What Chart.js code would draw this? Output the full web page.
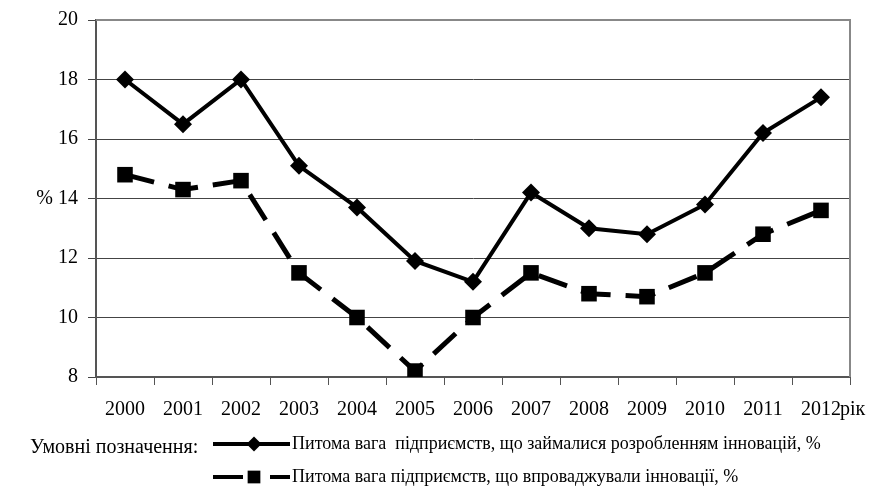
<!DOCTYPE html>
<html>
<head>
<meta charset="utf-8">
<script src="https://cdn.jsdelivr.net/npm/chart.js@4.4.1/dist/chart.umd.min.js"></script>
<style>
  html, body { margin: 0; padding: 0; background: #fff; }
  #wrap { width: 875px; height: 486px; }
</style>
</head>
<body>
<div id="wrap"><canvas id="chart" width="875" height="486"></canvas></div>
<script>
// data
const years = ['2000', '2001', '2002', '2003', '2004', '2005', '2006', '2007', '2008', '2009', '2010', '2011', '2012'];
const developShare = [18.0, 16.5, 18.0, 15.1, 13.7, 11.9, 11.2, 14.2, 13.0, 12.8, 13.8, 16.2, 17.4];
const implementShare = [14.8, 14.3, 14.6, 11.5, 10.0, 8.2, 10.0, 11.5, 10.8, 10.7, 11.5, 12.8, 13.6];
const yMin = 8, yMax = 20, yStep = 2;
const seriesNames = [
  'Питома вага  підприємств, що займалися розробленням інновацій, %',
  'Питома вага підприємств, що впроваджували інновації, %'
];
const legendTitle = 'Умовні позначення:';
const xUnit = 'рік';
const yUnit = '%';

const serif = '"Liberation Serif", "Times New Roman", serif';

function marker(ctx, style, x, y, r) {
  ctx.beginPath();
  if (style === 'rectRot') {
    ctx.moveTo(x, y - r); ctx.lineTo(x + r, y); ctx.lineTo(x, y + r); ctx.lineTo(x - r, y);
  } else {
    const s = r * Math.SQRT1_2;
    ctx.rect(x - s, y - s, 2 * s, 2 * s);
  }
  ctx.closePath();
  ctx.fill();
}

// frame on top/right + 'рік' + legend under the chart
const extras = {
  id: 'extras',
  beforeDatasetsDraw(chart) {
    const { ctx, chartArea: a } = chart;
    ctx.save();
    ctx.strokeStyle = '#888';
    ctx.lineWidth = 2;
    ctx.beginPath();
    ctx.moveTo(a.left, a.top);
    ctx.lineTo(a.right, a.top);
    ctx.lineTo(a.right, a.bottom);
    ctx.stroke();
    ctx.restore();
  },
  afterDraw(chart) {
    const { ctx, chartArea: a } = chart;
    const xs = chart.scales.x;
    ctx.save();
    ctx.fillStyle = '#000';
    ctx.textBaseline = 'middle';
    ctx.textAlign = 'left';
    ctx.font = '20px ' + serif;
    ctx.fillText(xUnit, xs.getPixelForTick(years.length - 1) + 19, a.bottom + 33);

    ctx.fillText(legendTitle, 30, a.bottom + 71);

    chart.data.datasets.forEach((ds, i) => {
      const y = a.bottom + 67 + i * 33;
      ctx.strokeStyle = '#000';
      ctx.lineWidth = 4;
      ctx.setLineDash(ds.borderDash ? [30, 27] : []);
      ctx.beginPath();
      ctx.moveTo(213, y);
      ctx.lineTo(290, y);
      ctx.stroke();
      ctx.setLineDash([]);
      ctx.fillStyle = '#000';
      marker(ctx, ds.pointStyle, 254, y, ds.pointStyle === 'rect' ? 9 : 7.5);
      ctx.font = '18px ' + serif;
      ctx.fillText(seriesNames[i], 292, y, 530);
    });
    ctx.restore();
  }
};

new Chart(document.getElementById('chart'), {
  type: 'line',
  data: {
    labels: years,
    datasets: [
      {
        label: seriesNames[0],
        data: developShare,
        borderColor: '#000',
        backgroundColor: '#000',
        borderWidth: 4,
        pointStyle: 'rectRot',
        pointRadius: 9,
        pointBorderWidth: 0,
        tension: 0
      },
      {
        label: seriesNames[1],
        data: implementShare,
        borderColor: '#000',
        backgroundColor: '#000',
        borderWidth: 5,
        borderDash: [30, 15],
        pointStyle: 'rect',
        pointRadius: 11,
        pointBorderWidth: 0,
        tension: 0
      }
    ]
  },
  options: {
    responsive: false,
    animation: false,
    events: [],
    layout: { padding: { top: 16, right: 25, bottom: 0, left: 0 } },
    plugins: {
      legend: { display: false },
      tooltip: { enabled: false }
    },
    scales: {
      x: {
        offset: true,
        afterFit(scale) { scale.height = 109; },
        grid: { offset: true, drawOnChartArea: false, color: '#555', tickLength: 8 },
        border: { color: '#555', width: 2 },
        ticks: { color: '#000', font: { family: serif, size: 20 }, padding: 13, maxRotation: 0 }
      },
      y: {
        min: yMin,
        max: yMax,
        afterFit(scale) { scale.width = 96; },
        grid: { color: '#444', lineWidth: 1, tickLength: 8 },
        border: { color: '#555', width: 2 },
        ticks: {
          stepSize: yStep,
          color: '#000',
          font: { family: serif, size: 20, lineHeight: 1 },
          padding: 10,
          callback: v => (v === 14 ? yUnit + ' ' + v : v)
        }
      }
    }
  },
  plugins: [extras]
});
</script>
</body>
</html>
